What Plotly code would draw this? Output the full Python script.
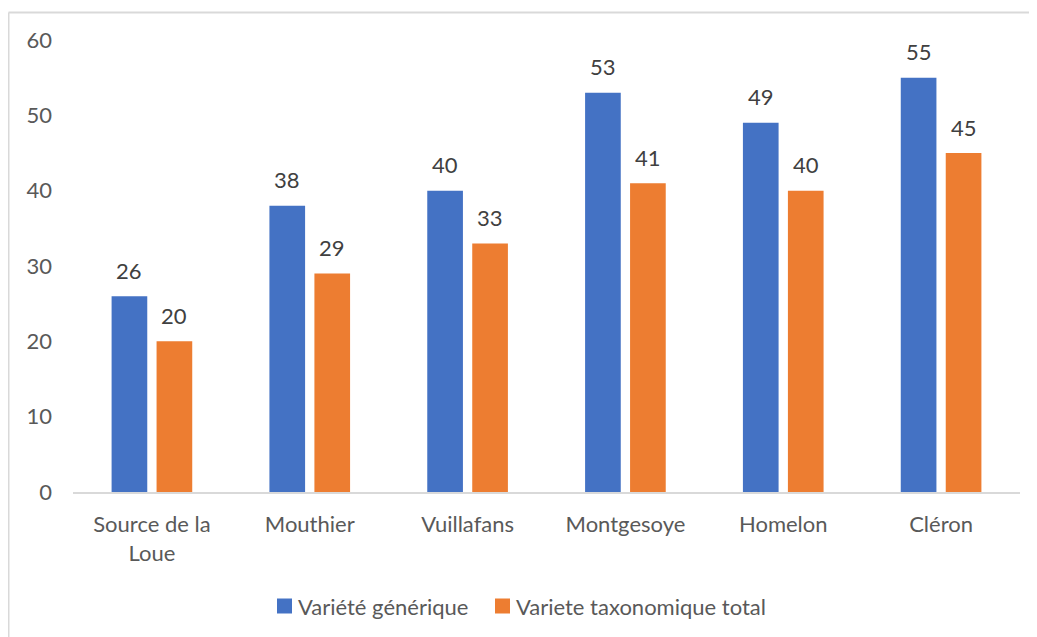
import plotly.graph_objects as go

categories = ["Source de la<br>Loue", "Mouthier", "Vuillafans", "Montgesoye", "Homelon", "Cléron"]
generique = [26, 38, 40, 53, 49, 55]
taxonomique = [20, 29, 33, 41, 40, 45]
series_names = ["Variété générique", "Variete taxonomique total"]
colors = ["#4472C4", "#ED7D31"]

FONT = "Lato, 'Open Sans', sans-serif"
OFF = 8  # default page body margin

W, H = 1037 - OFF, 637 - OFF
L, R, T = 73 - OFF, 17, 40 - OFF
B = H - (492 - OFF)
pw = W - L - R
ph = H - T - B


def px_x(p):
    return (p - OFF - L) / pw


def px_y(p):
    return (H - B - (p - OFF)) / ph


fig = go.Figure()
shifts = [-22.5, 22.5]
for name, vals, col, sh in zip(series_names, [generique, taxonomique], colors, shifts):
    fig.add_trace(go.Bar(
        x=categories, y=vals, name=name, marker=dict(color=col, line=dict(width=0)),
        showlegend=False,
    ))
    for c, v in zip(categories, vals):
        fig.add_annotation(x=c, y=v, xref="x", yref="y", text=str(v), showarrow=False,
                           xshift=sh, yshift=26, yanchor="middle", xanchor="center",
                           font=dict(size=22, color="#404040", family=FONT))

fig.update_layout(
    width=W, height=H,
    margin=dict(l=L, r=R, t=T, b=B),
    paper_bgcolor="white", plot_bgcolor="white",
    barmode="group", bargap=0.43, bargroupgap=0.207,
    font=dict(family=FONT, size=22, color="#595959"),
    xaxis=dict(showgrid=False, showline=True, linecolor="#d9d9d9", linewidth=2,
               ticks="", tickfont=dict(size=22, color="#595959"), ticklabelstandoff=12),
    yaxis=dict(range=[0, 60], dtick=10, showgrid=False, zeroline=False, showline=False,
               ticks="", tickfont=dict(size=22, color="#595959"), ticklabelstandoff=20),
    showlegend=False,
)

# manual legend, matching the reference layout
legend_items = [(277, 296), (495, 514)]
for (sx, tx), name, col in zip(legend_items, series_names, colors):
    fig.add_shape(type="rect", xref="paper", yref="paper",
                  x0=px_x(sx), x1=px_x(sx + 15), y0=px_y(598.5), y1=px_y(613.5),
                  fillcolor=col, line=dict(width=0))
    fig.add_annotation(x=px_x(tx), y=px_y(606), xref="paper", yref="paper", text=name,
                       showarrow=False, xanchor="left", yanchor="middle",
                       font=dict(size=22, color="#595959", family=FONT))

# chart frame
fig.add_shape(type="line", xref="paper", yref="paper",
              x0=px_x(8.5), x1=px_x(8.5), y0=px_y(12.5), y1=px_y(700),
              line=dict(color="#d9d9d9", width=2))
fig.add_shape(type="line", xref="paper", yref="paper",
              x0=px_x(8.5), x1=px_x(1100), y0=px_y(12.5), y1=px_y(12.5),
              line=dict(color="#d9d9d9", width=2))

fig.write_html("out.html")
